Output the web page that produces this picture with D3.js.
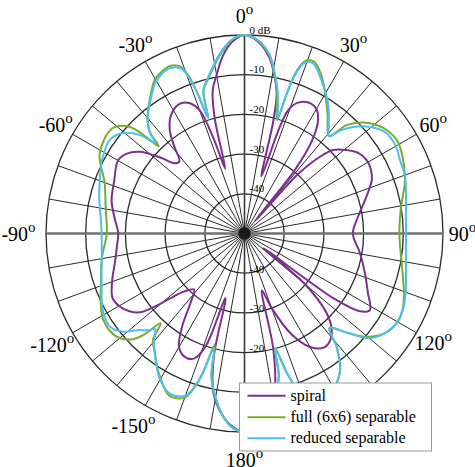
<!DOCTYPE html>
<html><head><meta charset="utf-8">
<script src="https://cdn.jsdelivr.net/npm/d3@7"></script>
<style>body{margin:0;background:#fff}svg{display:block}</style>
</head><body>
<script>
// ---- data: [angle in degrees clockwise from top, gain in dB] ----
const spiral = [[0,0],[4,-1.5],[8,-5.2],[11,-10],[13,-14],[14.4,-21],[16.5,-35],[18.3,-22],[19.5,-17],[22,-14.5],[26,-13.3],[30,-13.8],[33,-16],[36,-21],[38.5,-30],[40,-46],[42,-30],[44.5,-22.9],[46.7,-19.3],[50.7,-16.8],[55,-14.8],[59,-14.1],[63,-14.3],[67.2,-15.2],[74.5,-18.5],[81.6,-21.1],[90,-22.7],[99.6,-20.5],[108.1,-18.1],[115.7,-15.5],[121.4,-13.0],[124,-15],[126,-22],[128,-44],[130,-30],[135,-20],[140,-16],[145,-15],[150,-17],[155,-22],[160,-30],[163,-35],[166,-20],[169,-10],[172,-5],[176,-1.5],[180,0],
  [184,-1.5],[188,-5],[191,-9],[194,-18],[196.4,-33],[199,-20],[202,-16],[206,-15.5],[210,-17],[214,-22],[218,-28],[222,-31],[226,-29],[229,-25],[231,-20.5],[233,-17],[236,-15],[240,-13.5],[244,-13],[250,-14.5],[258,-16.7],[265,-17.8],[270,-18.2],[277,-17],[284,-15.5],[292,-14.6],[300,-13.2],[304,-14.1],[308,-16.6],[310.7,-19.7],[312.5,-22],[315,-25],[318,-25.5],[321,-22],[324,-18],[328,-15],[333,-13.5],[337,-14.3],[340,-17],[342,-25],[343.4,-33],[345.5,-20],[347.5,-13],[350,-9.5],[353,-5],[356.5,-1.5]];

const full = [[0,0],[4,-1.3],[8,-4.8],[11,-9.8],[13,-13.5],[16,-20.3],[16.8,-13],[17.8,-7],[19.5,-3.8],[22,-3.3],[25,-5],[28,-7.5],[31.4,-10.6],[35,-13.5],[38,-16],[41,-17.5],[43.3,-12.5],[46.9,-9.1],[52.7,-6.1],[58.4,-5.0],[62.9,-5.5],[71.6,-7.4],[80.3,-10.0],[90,-11.0],[100.7,-9.7],[110.6,-7.1],[115.8,-5.8],[120,-5.5],[125,-6.5],[130,-9.5],[134,-14],[138,-18],[141,-13],[145,-8],[150,-5],[155,-3.5],[158,-4],[161,-8],[163,-13],[165,-20],[166.5,-13],[169,-9],[172,-5],[176,-1.3],[180,0],
  [184,-1.3],[187,-4],[190,-8],[193,-13],[195,-21],[197,-12],[200,-6],[205,-5],[210.5,-8.1],[213.2,-9.8],[217,-12.5],[220.7,-14.6],[223,-19],[224.9,-13.9],[226.5,-11.3],[231.1,-8.6],[238.5,-8.3],[245,-10],[250,-11.5],[260,-13.5],[270,-15.3],[280,-14.5],[290,-12.5],[299,-8.3],[308.7,-7.5],[312.9,-10.6],[314.5,-15.4],[315.5,-19.2],[317,-15],[320,-12],[325,-8.5],[329.5,-5.3],[333,-4.2],[336,-3.8],[339,-5],[340.5,-8],[341.5,-13],[342.5,-19.5],[344,-12.5],[347,-9.8],[352,-4.8],[356,-1.3]];

const reduced = [[0,0],[4,-1.2],[8,-4.5],[11,-9.5],[13,-13],[15,-17.5],[16,-20],[16.8,-13.5],[17.8,-7.5],[19.5,-4.3],[22,-3.8],[25.8,-6.2],[29,-8.5],[32,-10.5],[35,-13],[38,-15.5],[41,-17.5],[43,-14.5],[45.5,-11.7],[49.6,-8.5],[54.8,-6.2],[60.2,-6.0],[64.7,-6.7],[70,-7.0],[75,-7.9],[80,-8.7],[85,-9.2],[90,-9.3],[95,-9.2],[100,-8.7],[105,-7.9],[110,-6.8],[115.8,-5.7],[120,-5.5],[125,-6.5],[130,-9],[134,-14],[138,-18],[141,-13],[145,-8],[150,-5],[155,-3.5],[158,-4],[161,-8],[163,-13],[165,-20],[166.5,-13],[169,-9],[172,-5],[176,-1.2],[180,0],
  [184,-1.2],[187,-4],[190,-8],[193,-13],[195,-20],[197,-12],[200,-6.5],[205,-5.5],[210,-7.5],[215,-11],[220,-14.5],[223,-17],[225,-15.5],[227.3,-14.2],[231,-10.7],[235.3,-8.8],[240.6,-9.2],[245,-10.3],[250,-11.7],[255,-12.7],[260,-13.5],[265,-13.9],[270,-14.0],[275,-13.7],[280,-13.0],[285,-12.1],[290,-11.2],[297.5,-9.6],[304.8,-8.7],[309.6,-10.3],[313.3,-13.8],[315.3,-17.9],[317,-15],[320,-12],[325,-8.8],[329.3,-5.9],[333,-4.6],[336,-4.3],[339,-5.5],[340.5,-8.5],[341.5,-13],[342.5,-19.5],[344,-12.5],[347,-9.5],[352,-4.5],[356,-1.2]];

const seriesNames = ["spiral","full (6x6) separable","reduced separable"];
const seriesColors = ["#7E2F8E","#77AC30","#4DBEEE"];
const ringTicks = [0,-10,-20,-30,-40];
const ringLabels = ["0 dB","-10","-20","-30","-40"];
const angleTicks = [0,30,60,90,120,150,180,-150,-120,-90,-60,-30];

// ---- drawing ----
const W=475,H=467,cx=244.5,cy=233.5,R=198.5;
const svg=d3.select("body").append("svg").attr("width",W).attr("height",H)
  .style("font-family","'Liberation Serif','Times New Roman',serif");
const g=svg.append("g").attr("transform",`translate(${cx},${cy})`);
const r=d3.scaleLinear().domain([-50,0]).range([0,R]);
const rad=d=>d*Math.PI/180;

const spokes=d3.range(0,360,10).filter(a=>a%90!==0);
g.selectAll("line.spoke").data(spokes).join("line")
  .attr("x1",0).attr("y1",0)
  .attr("x2",a=>R*Math.sin(rad(a))).attr("y2",a=>-R*Math.cos(rad(a)))
  .attr("stroke","#2a2a2a").attr("stroke-width",1);
g.selectAll("circle.ring").data(ringTicks).join("circle")
  .attr("r",d=>r(d)).attr("fill","none").attr("stroke","#2a2a2a").attr("stroke-width",1.3);
g.append("line").attr("x1",-R).attr("x2",R).attr("y1",0).attr("y2",0).attr("stroke","#707070").attr("stroke-width",2.4);
g.append("line").attr("y1",-R).attr("y2",R).attr("x1",0).attr("x2",0).attr("stroke","#3a3a3a").attr("stroke-width",1.6);
g.append("circle").attr("r",6).attr("fill","#1a1a1a");

ringTicks.forEach((t,i)=>{
  g.append("text").attr("x",5).attr("y",-r(t)-1.5).attr("font-size",11).text(ringLabels[i]);
  g.append("text").attr("x",5).attr("y",r(t)-0.5).attr("font-size",11).text(ringLabels[i]);
});

angleTicks.forEach(a=>{
  let rr = 218; if(a===-90) rr=226; if(a===180) rr=226; if(a===-120||a===-150) rr=222;
  const x=rr*Math.sin(rad(a)), y=-rr*Math.cos(rad(a));
  const t=g.append("text").attr("x",x).attr("y",y+7).attr("text-anchor","middle").attr("font-size",20);
  t.append("tspan").text(String(a));
  t.append("tspan").attr("font-size",15).attr("dy",-9).text("o");
});

const line=d3.lineRadial().angle(d=>rad(d[0])).radius(d=>r(d[1])).curve(d3.curveCatmullRomClosed.alpha(0.5));
[spiral,full,reduced].forEach((s,i)=>{
  g.append("path").attr("d",line(s)).attr("fill","none").attr("stroke",seriesColors[i]).attr("stroke-width",2);
});

const lg=svg.append("g").attr("transform","translate(239.5,383)");
lg.append("rect").attr("width",192).attr("height",68).attr("fill","#fff").attr("stroke","#9a9a9a").attr("stroke-width",1);
seriesNames.forEach((n,i)=>{
  const y=[12.7,34.3,55.3][i];
  lg.append("line").attr("x1",8).attr("x2",46).attr("y1",y).attr("y2",y).attr("stroke",seriesColors[i]).attr("stroke-width",2);
  lg.append("text").attr("x",51).attr("y",y+5).attr("font-size",16).text(n);
});
</script>
</body></html>
